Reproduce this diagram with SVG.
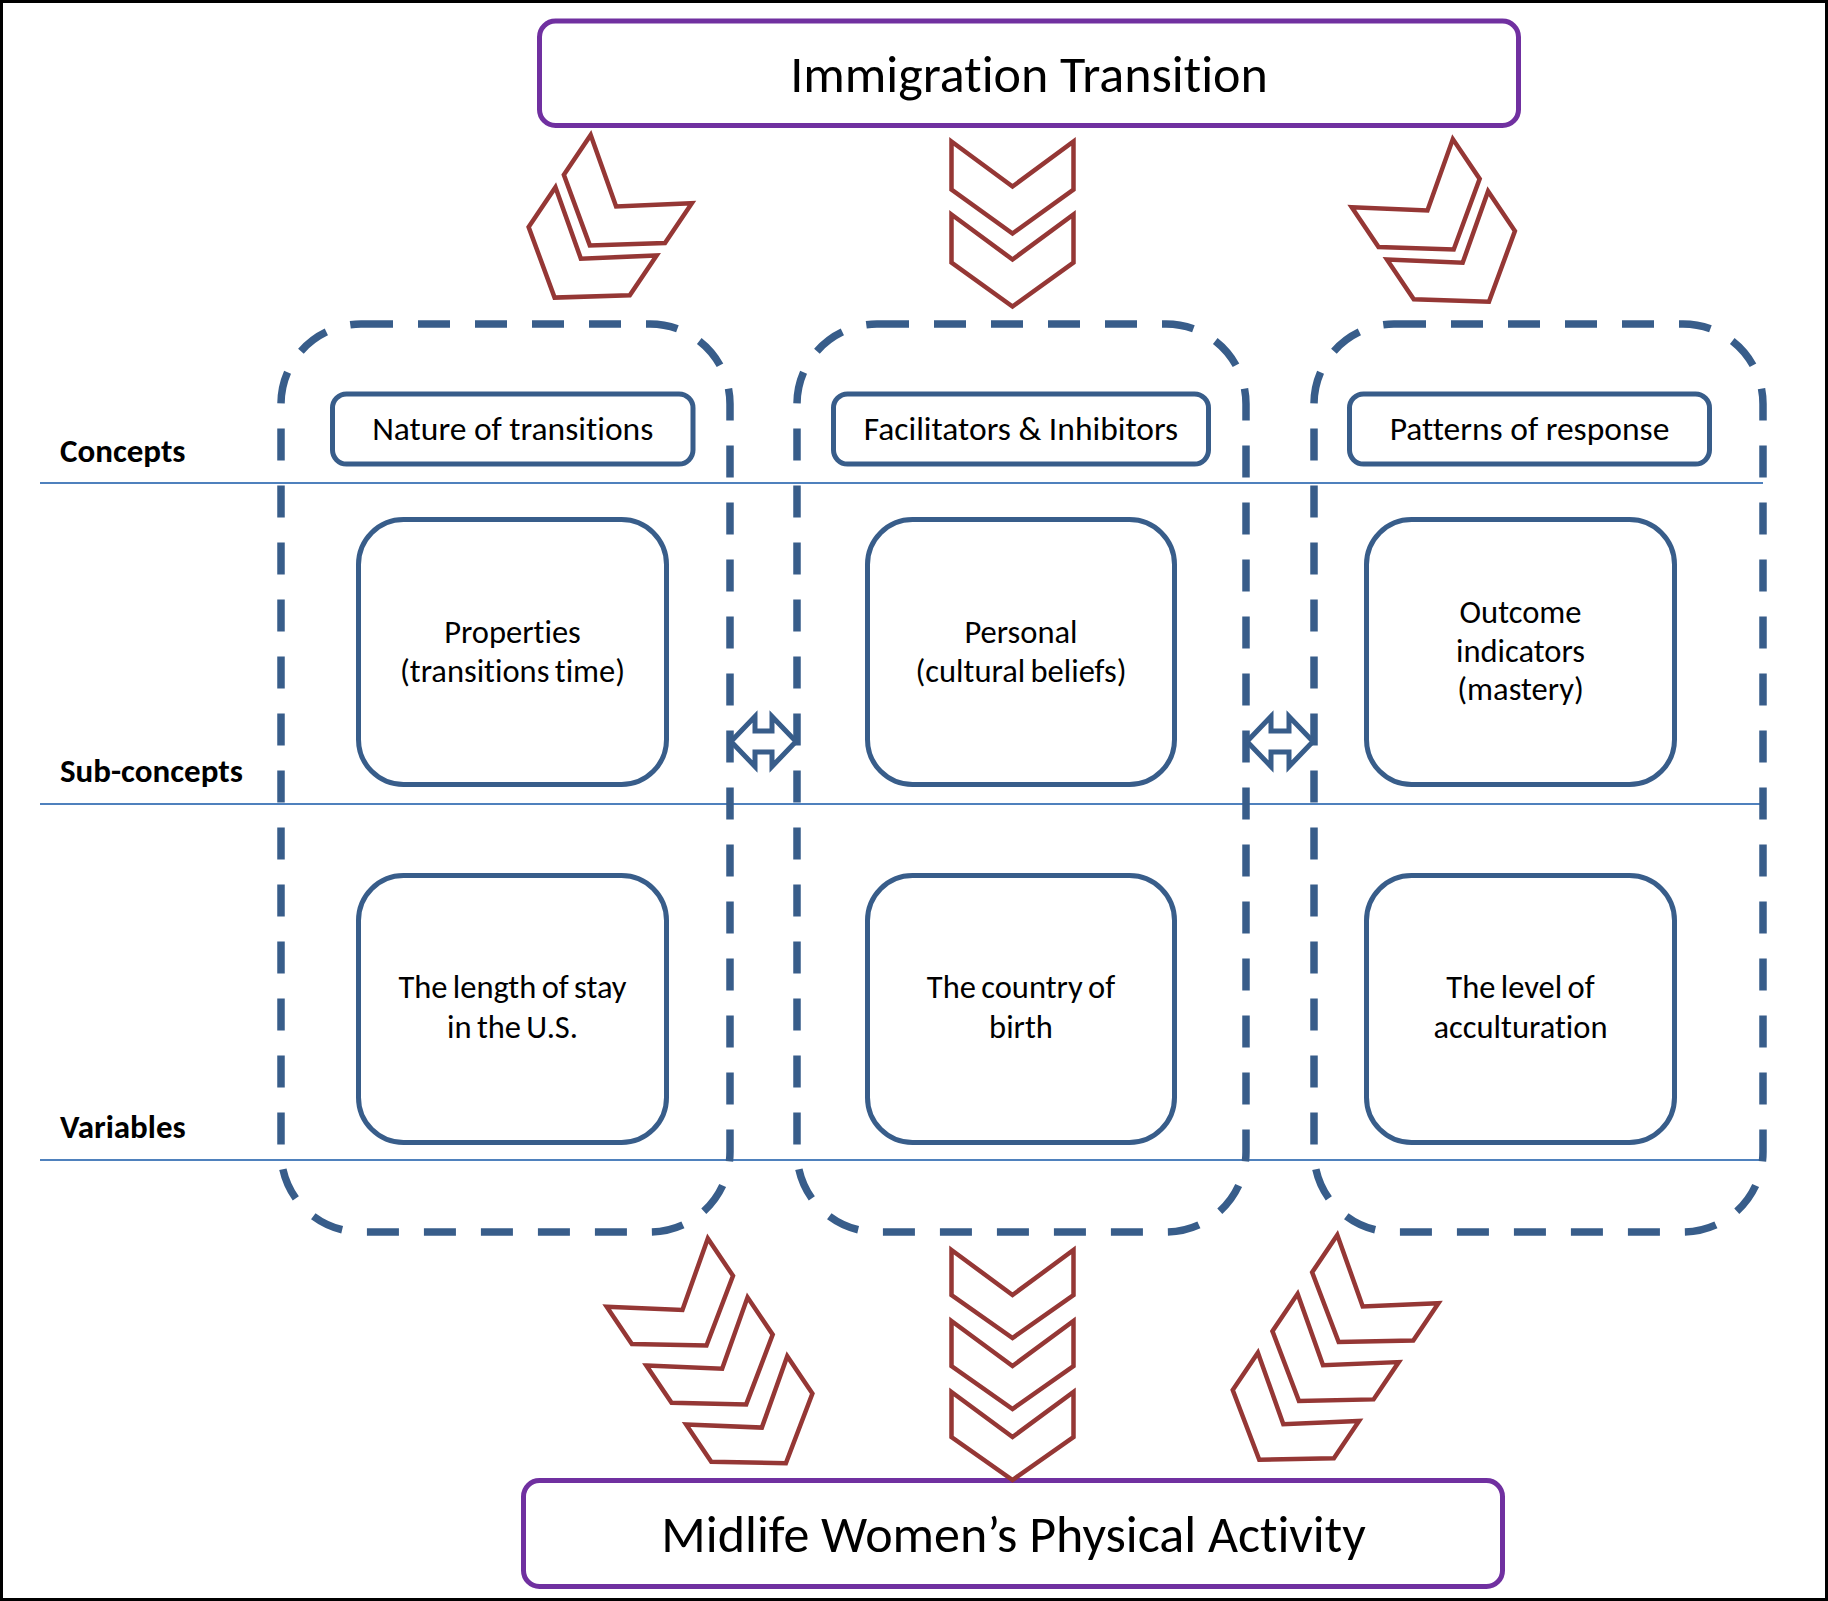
<svg xmlns="http://www.w3.org/2000/svg" xmlns:xlink="http://www.w3.org/1999/xlink" width="1828" height="1601" viewBox="0 0 1828 1601">
<style>
  .txt { font-family: Carlito, Lato, "Liberation Sans", sans-serif; fill: #000; font-variant-ligatures: none; }
  .big { font-size: 52px; text-anchor: middle; }
  .hdr { font-size: 33.5px; text-anchor: middle; }
  .inner { font-size: 32.5px; text-anchor: middle; word-spacing: -2px; }
  .lbl { font-size: 33px; font-weight: bold; }
  .main { fill: #fff; stroke: #7030A0; stroke-width: 5; }
  .concept { fill: #fff; stroke: #385D8A; stroke-width: 5; }
  .sub { fill: #fff; stroke: #385D8A; stroke-width: 5; }
  .cont { fill: none; stroke: #385D8A; stroke-width: 7.5; stroke-dasharray: 32 25; }
  .rule { stroke: #4F81BD; stroke-width: 2; }
  .chev { fill: #fff; stroke: #953735; stroke-width: 4.5; stroke-linejoin: miter; }
  .dbl { fill: #fff; stroke: #385D8A; stroke-width: 5; stroke-linejoin: miter; }
</style>
<defs>
  <polygon id="chevT" points="0,0 61,45 122,0 122,48 61,92 0,48"/>
  <polygon id="chevB" points="0,0 61,45 122,0 122,45 61,88 0,45"/>
</defs>
<rect x="0" y="0" width="1828" height="1601" fill="#fff"/>
<rect x="1.5" y="1.5" width="1825" height="1598" fill="none" stroke="#000" stroke-width="3"/>

<g id="rules">
  <line class="rule" x1="40" y1="483" x2="1763" y2="483"/>
  <line class="rule" x1="40" y1="804" x2="1763" y2="804"/>
  <line class="rule" x1="40" y1="1160" x2="1763" y2="1160"/>
</g>

<g id="row-labels">
  <text class="txt lbl" x="60" y="462">Concepts</text>
  <text class="txt lbl" x="60" y="782">Sub-concepts</text>
  <text class="txt lbl" x="60" y="1138">Variables</text>
</g>

<g id="container-nature"><rect class="cont" x="281" y="324" width="449" height="908" rx="80" ry="80"/></g>
<g id="container-facilitators"><rect class="cont" x="797" y="324" width="449" height="908" rx="80" ry="80"/></g>
<g id="container-patterns"><rect class="cont" x="1314" y="324" width="449" height="908" rx="80" ry="80"/></g>

<g id="immigration-transition">
  <rect class="main" x="539.5" y="21" width="979" height="104.5" rx="16" ry="16"/>
  <text class="txt big" x="1029" y="92">Immigration Transition</text>
</g>
<g id="midlife-activity">
  <rect class="main" x="523.5" y="1480.5" width="979" height="106" rx="16" ry="16"/>
  <text class="txt big" x="1013.5" y="1552">Midlife Women&#8217;s Physical Activity</text>
</g>

<g id="nature-of-transitions">
  <rect class="concept" x="332.5" y="394" width="360.5" height="70" rx="14" ry="14"/>
  <text class="txt hdr" x="512.75" y="440">Nature of transitions</text>
</g>
<g id="facilitators-inhibitors">
  <rect class="concept" x="833.5" y="394" width="375" height="70" rx="14" ry="14"/>
  <text class="txt hdr" x="1021" y="440">Facilitators &amp; Inhibitors</text>
</g>
<g id="patterns-of-response">
  <rect class="concept" x="1349.5" y="394" width="360" height="70" rx="14" ry="14"/>
  <text class="txt hdr" x="1529.5" y="440">Patterns of response</text>
</g>

<g id="properties">
  <rect class="sub" x="358.5" y="519.5" width="308" height="265" rx="45" ry="45"/>
  <text class="txt inner" x="512.5" y="643">Properties</text>
  <text class="txt inner" x="512.5" y="682">(transitions time)</text>
</g>
<g id="personal">
  <rect class="sub" x="867.5" y="519.5" width="307" height="265" rx="45" ry="45"/>
  <text class="txt inner" x="1021" y="643">Personal</text>
  <text class="txt inner" x="1021" y="682">(cultural beliefs)</text>
</g>
<g id="outcome-indicators">
  <rect class="sub" x="1366.5" y="519.5" width="308" height="265" rx="45" ry="45"/>
  <text class="txt inner" x="1520.5" y="623">Outcome</text>
  <text class="txt inner" x="1520.5" y="662">indicators</text>
  <text class="txt inner" x="1520.5" y="700">(mastery)</text>
</g>

<g id="length-of-stay">
  <rect class="sub" x="358.5" y="875.5" width="308" height="267" rx="45" ry="45"/>
  <text class="txt inner" x="512.5" y="998">The length of stay</text>
  <text class="txt inner" x="512.5" y="1038">in the U.S.</text>
</g>
<g id="country-of-birth">
  <rect class="sub" x="867.5" y="875.5" width="307" height="267" rx="45" ry="45"/>
  <text class="txt inner" x="1021" y="998">The country of</text>
  <text class="txt inner" x="1021" y="1038">birth</text>
</g>
<g id="level-of-acculturation">
  <rect class="sub" x="1366.5" y="875.5" width="308" height="267" rx="45" ry="45"/>
  <text class="txt inner" x="1520.5" y="998">The level of</text>
  <text class="txt inner" x="1520.5" y="1038">acculturation</text>
</g>

<g id="connectors">
  <g id="top-left-chevrons" transform="translate(590.7,135) rotate(34)">
    <use xlink:href="#chevT" href="#chevT" class="chev"/>
    <use xlink:href="#chevT" href="#chevT" class="chev" y="63"/>
  </g>
  <g id="top-center-chevrons" transform="translate(951.5,141.5)">
    <use xlink:href="#chevT" href="#chevT" class="chev"/>
    <use xlink:href="#chevT" href="#chevT" class="chev" y="73"/>
  </g>
  <g id="top-right-chevrons" transform="translate(1351.7,207.3) rotate(-34)">
    <use xlink:href="#chevT" href="#chevT" class="chev"/>
    <use xlink:href="#chevT" href="#chevT" class="chev" y="63"/>
  </g>
  <g id="bottom-left-chevrons" transform="translate(606.7,1306.7) rotate(-34)">
    <use xlink:href="#chevB" href="#chevB" class="chev"/>
    <use xlink:href="#chevB" href="#chevB" class="chev" y="71"/>
    <use xlink:href="#chevB" href="#chevB" class="chev" y="142"/>
  </g>
  <g id="bottom-center-chevrons" transform="translate(951.5,1250)">
    <use xlink:href="#chevB" href="#chevB" class="chev"/>
    <use xlink:href="#chevB" href="#chevB" class="chev" y="71"/>
    <use xlink:href="#chevB" href="#chevB" class="chev" y="142"/>
  </g>
  <g id="bottom-right-chevrons" transform="translate(1337.3,1235) rotate(34)">
    <use xlink:href="#chevB" href="#chevB" class="chev"/>
    <use xlink:href="#chevB" href="#chevB" class="chev" y="71"/>
    <use xlink:href="#chevB" href="#chevB" class="chev" y="142"/>
  </g>
  <polygon id="dbl-left" class="dbl" points="731,741.5 755,716.5 755,731 772,731 772,716.5 796,741.5 772,766.5 772,752 755,752 755,766.5"/>
  <polygon id="dbl-right" class="dbl" points="1247,741.5 1271,716.5 1271,731 1289,731 1289,716.5 1313,741.5 1289,766.5 1289,752 1271,752 1271,766.5"/>
</g>
</svg>
